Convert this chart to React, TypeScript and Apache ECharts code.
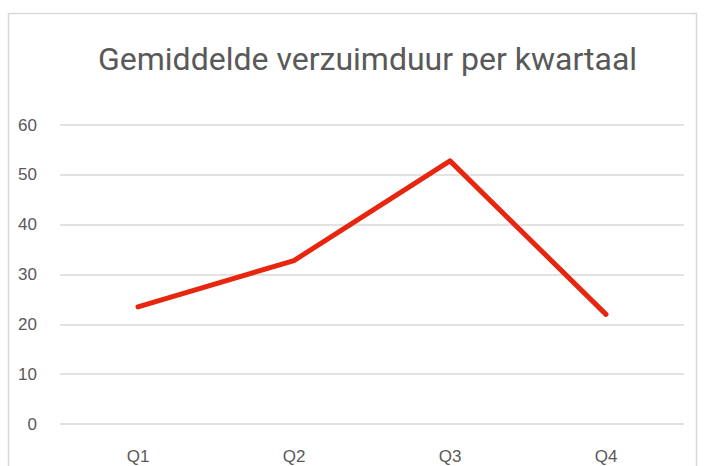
import React, { useEffect, useRef } from "react";
import * as echarts from "echarts";

const categories = ["Q1", "Q2", "Q3", "Q4"];
const values = [23.5, 32.8, 52.8, 22.0];
const yTicks = { min: 0, max: 60, interval: 10 };
const titleText = "Gemiddelde verzuimduur per kwartaal";

export default function App() {
  const ref = useRef<HTMLDivElement>(null);
  useEffect(() => {
    document.body.style.margin = "0";
    const chart = echarts.init(ref.current!, null, { renderer: "svg" });
    chart.setOption({
      animation: false,
      backgroundColor: "#ffffff",
      title: {
        text: titleText,
        left: 93,
        top: 38,
        textStyle: { fontFamily: "Roboto", fontSize: 32, fontWeight: "normal", color: "#595959" },
      },
      graphic: [
        {
          type: "rect",
          shape: { x: 8.5, y: 13.5, width: 688, height: 470 },
          style: { fill: "none", stroke: "#d9d9d9", lineWidth: 1.5 },
          silent: true,
        },
      ],
      grid: { left: 60, right: 30, top: 125, bottom: 42, containLabel: false },
      xAxis: {
        type: "category",
        data: categories,
        boundaryGap: true,
        axisLine: { show: false },
        axisTick: { show: false },
        axisLabel: { margin: 24, fontFamily: "Liberation Sans", fontSize: 17, color: "#595959" },
      },
      yAxis: {
        type: "value",
        min: yTicks.min,
        max: yTicks.max,
        interval: yTicks.interval,
        axisLine: { show: false },
        axisTick: { show: false },
        axisLabel: { margin: 23, fontFamily: "Liberation Sans", fontSize: 17, color: "#595959" },
        splitLine: { lineStyle: { color: "#d9d9d9", width: 1.5 } },
      },
      series: [
        {
          type: "line",
          data: values,
          symbol: "none",
          lineStyle: { color: "#e8260f", width: 5, cap: "round", join: "round" },
        },
      ],
    });
    return () => chart.dispose();
  }, []);
  return <div ref={ref} style={{ position: "fixed", left: 0, top: 0, width: 714, height: 466 }} />;
}
